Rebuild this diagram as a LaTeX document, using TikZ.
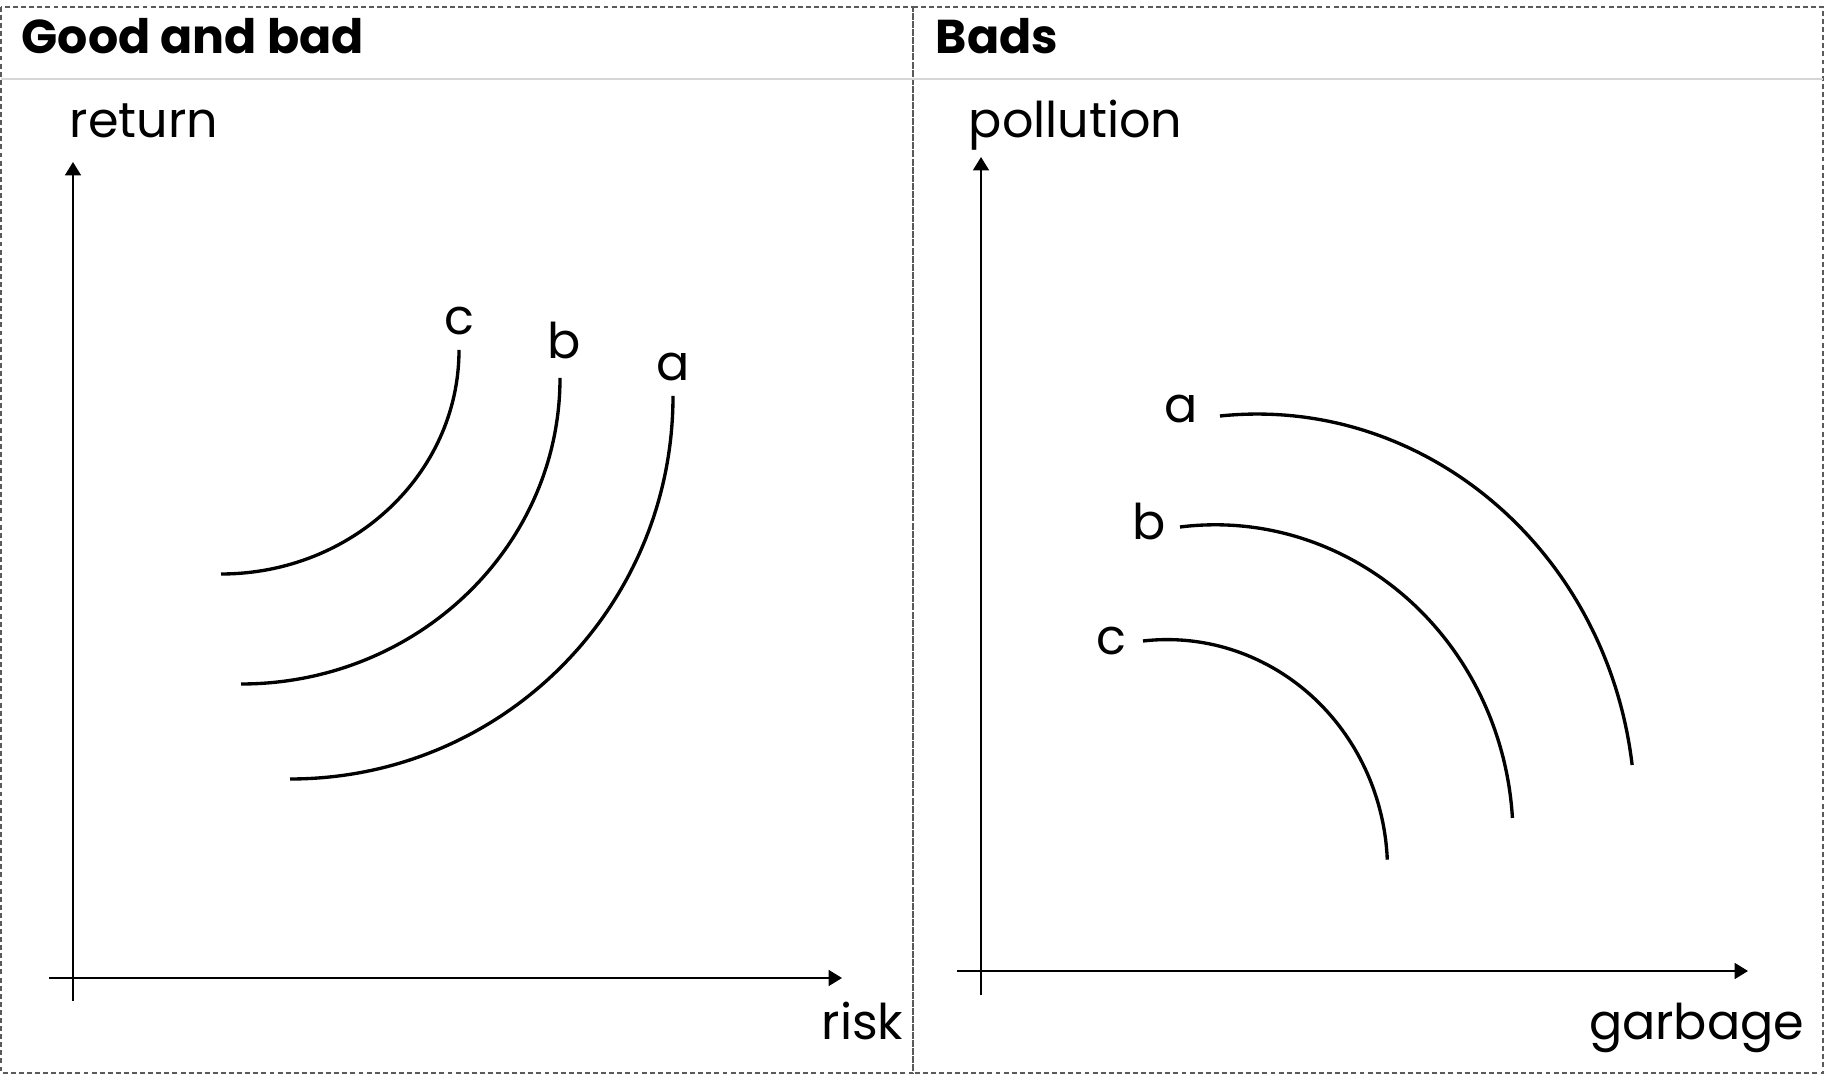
\documentclass[tikz,border=0pt]{standalone}
\usepackage{fontspec}
\setmainfont{Poppins}
\usetikzlibrary{arrows.meta,positioning}
\definecolor{framex}{HTML}{5A5A5A}
\definecolor{rulex}{HTML}{D6D6D6}
\tikzset{
  panel/.style={draw=framex,line width=0.4pt,dash pattern=on 1.4pt off 0.9pt},
  axis/.style={-{Triangle[width=4.5pt,length=3.8pt]},line width=0.6pt},
  curve/.style={line width=0.95pt},
  lbl/.style={font=\fontsize{14}{17}\selectfont,inner sep=0pt},
  ttl/.style={font=\bfseries\fontsize{13.5}{16}\selectfont,inner sep=0pt,anchor=base west}
}
\begin{document}
\begin{tikzpicture}[x=0.01cm,y=-0.01cm]
\useasboundingbox (0,0) rectangle (1825,1074);
% frames and header
\draw[panel] (1,7) rectangle (913,1073);
\draw[panel] (913,7) rectangle (1823,1073);
\draw[rulex,line width=0.4pt] (1,79) -- (1823,79);
\node[ttl] (tGood) at (21,54) {Good and bad};
\node[ttl] (tBads) at (935,54) {Bads};
% left axes
\coordinate (yLb) at (73,1001);
\coordinate (yLt) at (73,162);
\coordinate (xLl) at (49,978);
\coordinate (xLr) at (842,978);
\draw[axis] (yLb) -- (yLt);
\draw[axis] (xLl) -- (xLr);
\node[lbl,anchor=base west] (lReturn) at (69,138) {return};
\node[lbl,anchor=base east] (lRisk) at (904,1039) {risk};
% left curves
\coordinate (lcS) at (221,574); \coordinate (lcE) at (459,350);
\coordinate (lbS) at (241,684); \coordinate (lbE) at (560,378);
\coordinate (laS) at (290,779); \coordinate (laE) at (673,396);
\draw[curve] (lcS) .. controls +(131,0) and +(0,124) .. (lcE);
\draw[curve] (lbS) .. controls +(176,0) and +(0,169) .. (lbE);
\draw[curve] (laS) .. controls +(212,0) and +(0,212) .. (laE);
\node[lbl,anchor=base] (lcL) at (459,335) {c};
\node[lbl,anchor=base] (lbL) at (564,359) {b};
\node[lbl,anchor=base] (laL) at (673,381) {a};
% right axes
\coordinate (yRb) at (981,995);
\coordinate (yRt) at (981,157);
\coordinate (xRl) at (957,971);
\coordinate (xRr) at (1748,971);
\draw[axis] (yRb) -- (yRt);
\draw[axis] (xRl) -- (xRr);
\node[lbl,anchor=base west] (lPoll) at (968,138) {pollution};
\node[lbl,anchor=base east] (lGarb) at (1805,1039) {garbage};
% right curves
\coordinate (raS) at (1220,416);
\coordinate (rbS) at (1180,527);
\coordinate (rcS) at (1143,641);
\draw[curve] (raS) arc[start angle=95.6,end angle=7.2,x radius=3.78cm,y radius=4.01cm];
\draw[curve] (rbS) arc[start angle=96.8,end angle=3.6,x radius=2.976cm,y radius=3.126cm];
\draw[curve] (rcS) arc[start angle=96.3,end angle=2.5,x radius=2.202cm,y radius=2.30cm];
\node[lbl,anchor=base] (raL) at (1181,423) {a};
\node[lbl,anchor=base] (rbL) at (1149,540) {b};
\node[lbl,anchor=base] (rcL) at (1111,655) {c};
\end{tikzpicture}
\end{document}
